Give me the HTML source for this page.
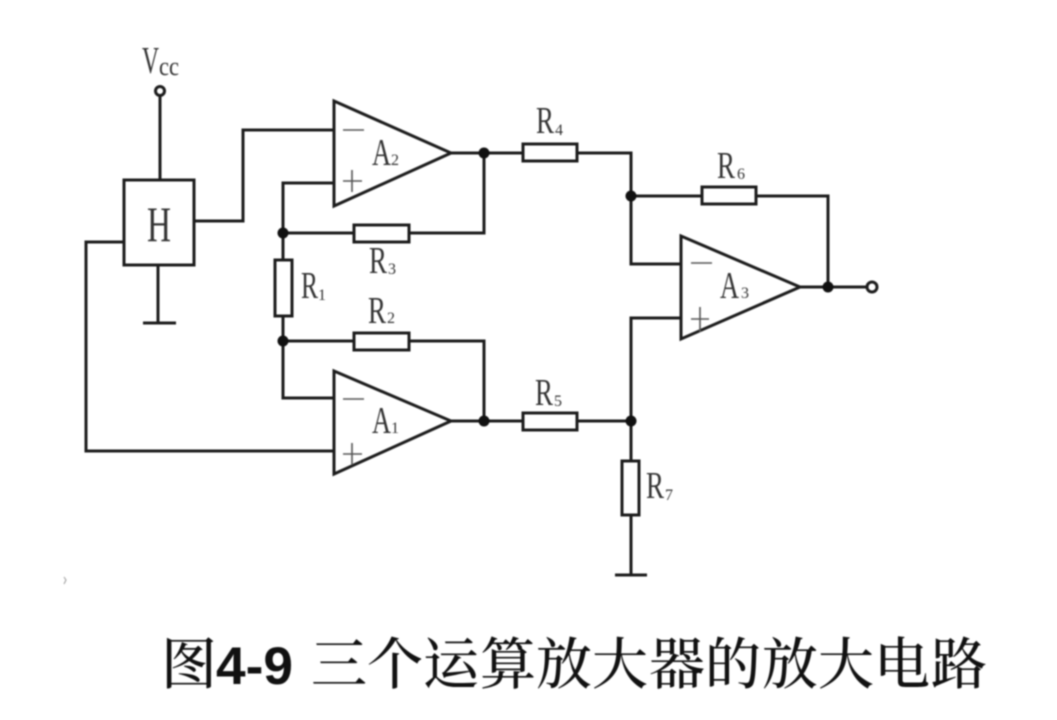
<!DOCTYPE html>
<html>
<head>
<meta charset="utf-8">
<style>
html,body{margin:0;padding:0;background:#fff;width:1057px;height:720px;overflow:hidden}
svg{display:block}
.b{filter:blur(0.7px)}
.l{font-family:"Liberation Serif","Noto Serif CJK SC",serif;fill:#333}
.c{font-family:"Noto Serif CJK SC","Liberation Serif",serif;fill:#111}
</style>
</head>
<body>
<svg width="1057" height="720" viewBox="0 0 1057 720" xmlns="http://www.w3.org/2000/svg">
<g class="b">
<g fill="none" stroke="#1c1c1c" stroke-width="3">
<line x1="160" y1="96" x2="160" y2="180"/>
<circle cx="160" cy="91" r="4.5"/>
<rect x="124" y="180" width="70" height="85"/>
<line x1="158" y1="265" x2="158" y2="323"/>
<line x1="143" y1="323" x2="176" y2="323"/>
<polyline points="194,221 243,221 243,130 334,130"/>
<polyline points="124,242 86,242 86,451 334,451"/>
<polygon points="334,101 451,153 334,206"/>
<polygon points="334,371 451,421 334,474"/>
<polygon points="681,236 800,287 681,339"/>
<polyline points="334,183 283,183 283,260"/>
<line x1="283" y1="233" x2="354" y2="233"/>
<rect x="354" y="225" width="55" height="17"/>
<polyline points="409,233 484,233 484,153"/>
<line x1="451" y1="153" x2="523" y2="153"/>
<rect x="523" y="144" width="54" height="17"/>
<polyline points="577,153 631,153 631,264 681,264"/>
<line x1="631" y1="196" x2="702" y2="196"/>
<rect x="702" y="187" width="54" height="17"/>
<polyline points="756,196 828,196 828,287"/>
<line x1="800" y1="287" x2="866" y2="287"/>
<circle cx="872" cy="287" r="5"/>
<rect x="275" y="260" width="17" height="56"/>
<polyline points="283,316 283,398 334,398"/>
<line x1="283" y1="341" x2="354" y2="341"/>
<rect x="354" y="333" width="55" height="17"/>
<polyline points="409,341 484,341 484,421"/>
<line x1="451" y1="421" x2="523" y2="421"/>
<rect x="523" y="413" width="54" height="17"/>
<line x1="577" y1="421" x2="631" y2="421"/>
<polyline points="681,318 631,318 631,461"/>
<rect x="622" y="461" width="17" height="54"/>
<line x1="631" y1="515" x2="631" y2="575"/>
<line x1="615" y1="575" x2="647" y2="575"/>
</g>
<g fill="none" stroke="#555" stroke-width="1.6">
<path d="M343 130H364"/>
<path d="M343 181H362M352 170V192"/>
<path d="M343 399H364"/>
<path d="M343 454H362M352 443V465"/>
<path d="M691 263H712"/>
<path d="M691 319H709M700 307V332"/>
<path d="M64 577L66 580L64 584" stroke="#999" stroke-width="1"/>
</g>
<g fill="#111">
<circle cx="484" cy="153" r="5.5"/>
<circle cx="631" cy="196" r="5.5"/>
<circle cx="283" cy="233" r="5.5"/>
<circle cx="283" cy="341" r="5.5"/>
<circle cx="484" cy="421" r="5.5"/>
<circle cx="631" cy="421" r="5.5"/>
<circle cx="828" cy="287" r="5.5"/>
</g>
<g class="l">
<text x="142" y="73" font-size="38" textLength="17" lengthAdjust="spacingAndGlyphs">V</text>
<text x="159" y="75" font-size="26" textLength="20" lengthAdjust="spacingAndGlyphs">cc</text>
<text x="147" y="241" font-size="50" textLength="24" lengthAdjust="spacingAndGlyphs">H</text>
<text x="372" y="165" font-size="38" textLength="19" lengthAdjust="spacingAndGlyphs">A</text><text x="391" y="165" font-size="16">2</text>
<text x="372" y="433" font-size="38" textLength="19" lengthAdjust="spacingAndGlyphs">A</text><text x="391" y="433" font-size="16">1</text>
<text x="720" y="298" font-size="38" textLength="19" lengthAdjust="spacingAndGlyphs">A</text><text x="741" y="298" font-size="16">3</text>
<text x="536" y="133" font-size="38" textLength="18" lengthAdjust="spacingAndGlyphs">R</text><text x="555" y="135" font-size="16">4</text>
<text x="717" y="178" font-size="38" textLength="18" lengthAdjust="spacingAndGlyphs">R</text><text x="737" y="179" font-size="16">6</text>
<text x="369" y="273" font-size="38" textLength="18" lengthAdjust="spacingAndGlyphs">R</text><text x="388" y="274" font-size="16">3</text>
<text x="301" y="298" font-size="38" textLength="17" lengthAdjust="spacingAndGlyphs">R</text><text x="318" y="300" font-size="16">1</text>
<text x="368" y="323" font-size="38" textLength="18" lengthAdjust="spacingAndGlyphs">R</text><text x="387" y="323" font-size="16">2</text>
<text x="535" y="405" font-size="38" textLength="18" lengthAdjust="spacingAndGlyphs">R</text><text x="554" y="406" font-size="16">5</text>
<text x="646" y="498" font-size="38" textLength="18" lengthAdjust="spacingAndGlyphs">R</text><text x="665" y="500" font-size="16">7</text>
</g>
<text class="c" x="161" y="684" font-size="56" font-weight="500">图</text>
<text x="216" y="684" font-size="53" font-weight="700" fill="#111" font-family="'Liberation Sans',sans-serif" textLength="77" lengthAdjust="spacingAndGlyphs">4-9</text>
<text class="c" x="311 367 423 480 536 592 649 705 762 818 874 931" y="684" font-size="56" font-weight="500">三个运算放大器的放大电路</text>
</g>
</svg>
</body>
</html>
